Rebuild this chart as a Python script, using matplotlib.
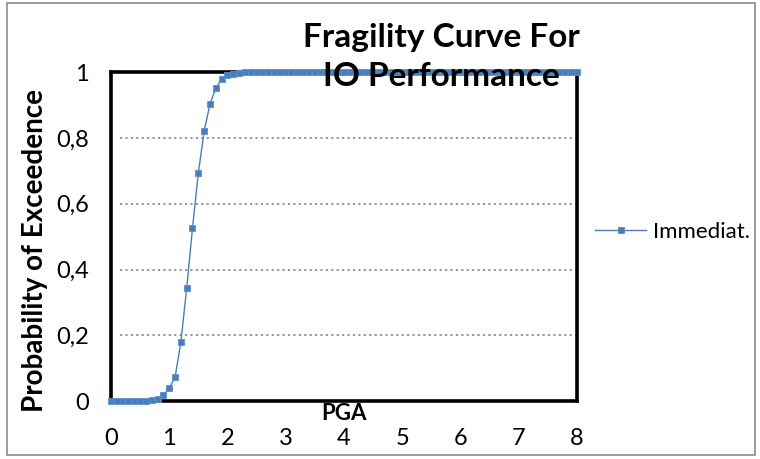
import matplotlib
matplotlib.use("Agg")
import matplotlib.pyplot as plt
from matplotlib.patches import Rectangle

# PGA values (g) and probability of exceeding the IO performance level
pga = [round(0.1 * i, 1) for i in range(81)]
prob_head = [0.0, 0.0, 0.0, 0.002, 0.001, 0.001, 0.001, 0.004, 0.008, 0.018,
             0.04, 0.072, 0.179, 0.343, 0.526, 0.693, 0.82, 0.903, 0.951, 0.979,
             0.991, 0.995, 0.998, 0.999]
prob = prob_head + [1.0] * (len(pga) - len(prob_head))

y_ticks = [0, 0.2, 0.4, 0.6, 0.8, 1]
y_tick_labels = ["0", "0,2", "0,4", "0,6", "0,8", "1"]
x_ticks = [0, 1, 2, 3, 4, 5, 6, 7, 8]

title = "Fragility Curve For\nIO Performance"
series_name = "Immediat."
blue = "#4A7EBB"

plt.rcParams["font.family"] = ["Lato", "DejaVu Sans"]

fig = plt.figure(figsize=(7.6, 4.59), dpi=100)
fig.patch.set_facecolor("white")
# outer chart border
fig.add_artist(Rectangle((0.009, 0.008), 0.984, 0.985, transform=fig.transFigure,
                         fill=False, edgecolor="#8c8c8c", linewidth=1.2))

ax = fig.add_axes([0.146, 0.126, 0.613, 0.717])
ax.plot(pga, prob, color=blue, linewidth=1.0, marker="s", markersize=5,
        markerfacecolor=blue, markeredgecolor="#5b8fd0", markeredgewidth=0.6,
        label=series_name, clip_on=False, zorder=5)

ax.set_xlim(0, 8)
ax.set_ylim(0, 1)
ax.set_yticks(y_ticks)
ax.set_yticklabels(y_tick_labels)
ax.set_xticks(x_ticks)
ax.tick_params(axis="both", length=0, labelsize=17, colors="black")
ax.tick_params(axis="y", pad=16)
ax.tick_params(axis="x", pad=19)

for yv in y_ticks[1:-1]:
    ax.axhline(yv, xmin=0.02, xmax=1.0, color="#8c8c8c", linestyle=(0, (1.2, 1.8)),
               linewidth=1.3, zorder=1)

for side in ["left", "right", "top", "bottom"]:
    ax.spines[side].set_linewidth(2.6)
    ax.spines[side].set_color("black")
    ax.spines[side].set_zorder(3)

ax.set_xlabel("PGA", fontsize=16, fontweight="bold")
ax.xaxis.set_label_coords(0.5, -0.005, transform=ax.transAxes)
ax.xaxis.label.set_va("top")
ax.set_ylabel("Probability of Exceedence", fontsize=20, fontweight="bold")
ax.yaxis.set_label_coords(-0.136, 0.457)

fig.text(0.581, 0.876, title, ha="center", va="center", fontsize=24,
         fontweight="bold", linespacing=1.42, zorder=10)

leg = fig.legend(loc="center left", bbox_to_anchor=(0.757, 0.495), frameon=False,
                 fontsize=16, handlelength=2.3, handletextpad=0.3)

fig.savefig("out.png", dpi=100, facecolor="white")
